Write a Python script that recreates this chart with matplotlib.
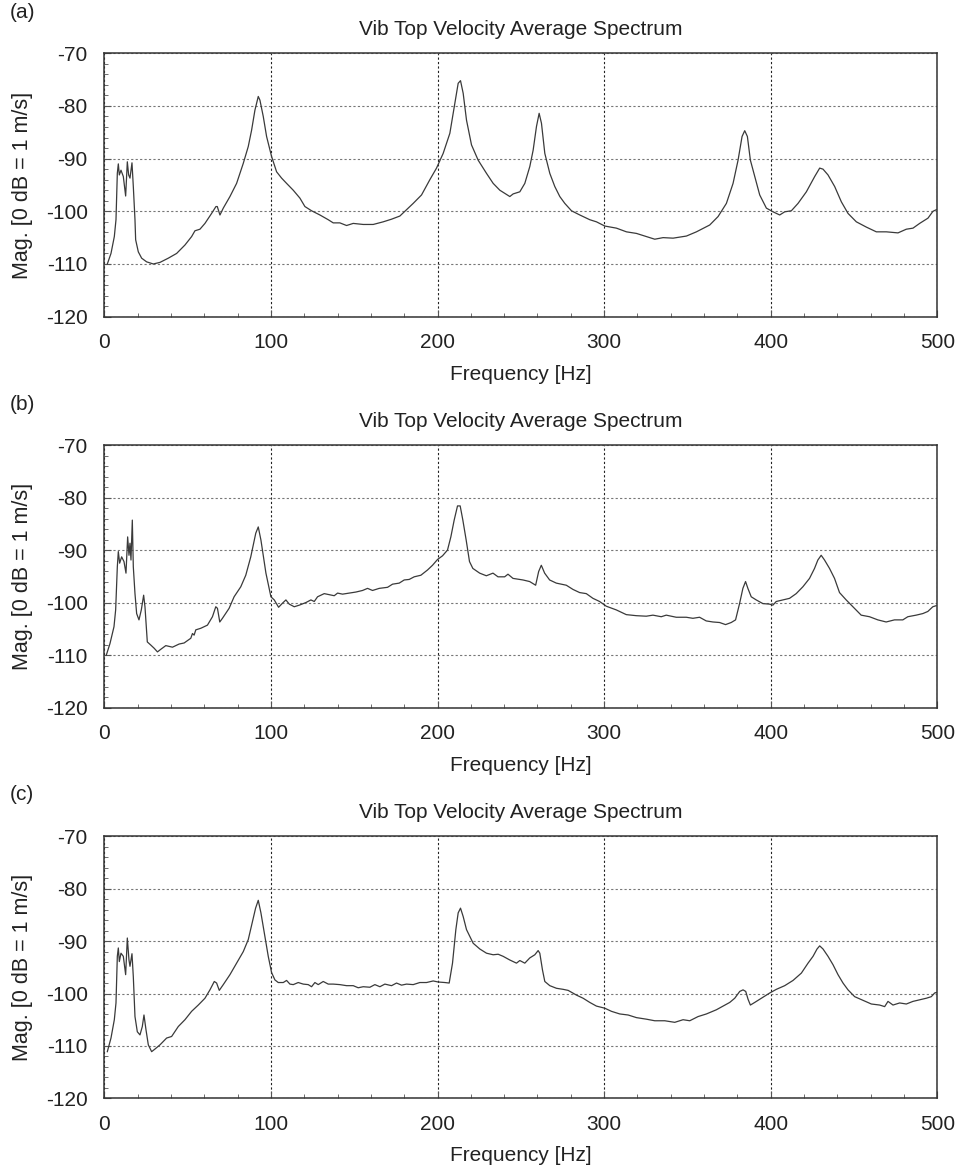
import matplotlib
matplotlib.use("Agg")
import matplotlib.pyplot as plt
from matplotlib.ticker import MultipleLocator

# (a) spectrum
freq_a = [1.8, 4, 6, 7, 7.8, 8.4, 9, 10, 11.4, 12.8, 13.8, 14.6, 15.4, 16.6, 17.4, 18.4, 18.8,
          20.4, 22.4, 25.4, 29.4, 33.4, 38.4, 43.4, 48.4, 52.4, 54.4, 57.4, 60.4, 64.4, 67, 67.8,
          69.4, 71.4, 75.4, 79.4, 83.4, 86.4, 88.4, 90.4, 92.4, 93.4, 95.4, 97.4, 100.4, 103.4,
          106.4, 109.4, 113.4, 117.4, 120.4, 124.4, 129.4, 134.4, 137.4, 141.4, 145.4, 149.4,
          155.4, 161.4, 167.4, 172.4, 177.4, 180.4, 185.4, 190.4, 195.4, 199.4, 203.4, 207.4,
          210.4, 212.4, 213.8, 215.4, 217.4, 220.4, 224.4, 229.4, 233.4, 237.4, 243.4, 245.4,
          249.4, 252.4, 255.4, 257.4, 259.4, 261, 262.4, 264.4, 267.4, 270.4, 273.4, 276.4,
          280.4, 285.4, 291.4, 295.4, 300.4, 307.4, 313.4, 319.4, 325.4, 330.4, 335.4, 341.4,
          349.4, 355.4, 363.4, 368.4, 373.4, 377.4, 380.4, 382.8, 384.4, 386, 387.8, 390.4,
          393.4, 397.4, 401.4, 405.4, 408.4, 412.4, 416.4, 421.4, 426.4, 429.4, 431.4, 434.4,
          438.4, 442.4, 446.4, 451.4, 457.4, 463.4, 469.4, 476.4, 481.4, 485.4, 489.4, 494.4,
          497.4, 499.4]
mag_a = [-110, -108, -104.8, -101.6, -92.8, -91, -93.1, -92.2, -93.4, -97.1, -90.6, -93.1, -93.7,
         -90.8, -95.3, -101.6, -105.4, -107.7, -108.9, -109.6, -110, -109.7, -108.9, -108, -106.4,
         -104.8, -103.7, -103.4, -102.3, -100.4, -99.1, -99.1, -100.7, -99.4, -97.2, -94.7, -90.9,
         -87.7, -84.6, -80.8, -78.2, -78.9, -82, -85.8, -89.6, -92.5, -93.7, -94.7, -96, -97.5,
         -99.1, -99.9, -100.7, -101.6, -102.2, -102.2, -102.7, -102.3, -102.5, -102.5, -102,
         -101.5, -100.9, -100, -98.5, -96.9, -94, -91.8, -89, -85.2, -79.5, -75.7, -75.2, -77.6,
         -82.7, -87.4, -90.3, -92.8, -94.7, -96, -97.2, -96.7, -96.3, -94.7, -91.5, -88.4, -83.9,
         -81.4, -83.3, -89, -92.8, -95.3, -97.2, -98.5, -99.9, -100.7, -101.6, -102, -102.8,
         -103.2, -103.9, -104.2, -104.8, -105.3, -105, -105.1, -104.7, -103.9, -102.6, -101,
         -98.5, -94.7, -90.3, -85.8, -84.7, -85.8, -90.3, -93.4, -96.9, -99.4, -100.1, -100.7,
         -100.1, -99.9, -98.5, -96.3, -93.4, -91.8, -92, -93.1, -95.3, -98.2, -100.4, -102, -103,
         -103.9, -103.9, -104.1, -103.4, -103.2, -102.3, -101.3, -100, -99.7]

# (b) spectrum
freq_b = [1.2, 3.4, 5.8, 6.8, 7.8, 8.4, 9.2, 10.4, 11.8, 13, 14, 14.8, 15.4, 16, 16.8, 17.4,
          18.4, 19.4, 20.8, 22.2, 23.6, 24.4, 25.8, 27.9, 29.9, 31.9, 33.9, 36.9, 40.9, 44.9,
          47.9, 51.9, 52.9, 53.9, 54.9, 57.9, 61.9, 64.9, 66.9, 67.9, 69.3, 70.9, 74.9, 77.9,
          81.9, 84.9, 87.9, 90.9, 92.4, 94, 97, 100, 102, 104.6, 107, 109, 111, 114, 117, 121,
          124, 126, 128, 130, 132, 135, 138, 140, 143, 147, 151, 155, 158, 161, 165, 170, 173,
          177, 180, 183, 186, 190, 194, 197, 200, 203, 206, 208, 210, 212, 213.6, 215.2, 217.2,
          219.2, 221.2, 225.3, 229.3, 233.3, 236.3, 240.3, 242.3, 245.3, 251.3, 255.3, 258.9,
          260.7, 262.3, 264.3, 267.3, 271.3, 277.3, 281.3, 285.3, 289.3, 293.3, 297.3, 301.3,
          307.3, 313.3, 319.3, 325.3, 329.3, 334.3, 337.3, 343.3, 349.3, 353.3, 357.3, 361.3,
          365.3, 369.3, 372.9, 376.3, 378.9, 381.3, 383.3, 384.9, 386.3, 388.3, 391.3, 395.3,
          399.3, 401.3, 403.3, 407.3, 411.3, 415.3, 419.3, 423.3, 426.3, 428.3, 430.3, 432.3,
          435.3, 438.3, 441.3, 445.3, 449.3, 454.3, 459.3, 464.3, 469.3, 474.3, 479.3, 482.3,
          487.3, 491.3, 494.3, 497.3, 499.3]
mag_b = [-110, -107.8, -104.6, -101.4, -93.2, -90.3, -92.5, -91.3, -92.2, -94.4, -87.5, -91,
         -88.7, -91.9, -84.3, -93.2, -98.3, -102.1, -103.3, -101.4, -98.6, -100.8, -107.5, -108.1,
         -108.7, -109.4, -108.9, -108.2, -108.5, -107.9, -107.7, -106.8, -105.9, -106.2, -105.2,
         -104.9, -104.3, -102.7, -100.8, -101.1, -103.7, -103, -101.1, -98.9, -97, -94.8, -91.3,
         -86.8, -85.6, -88.1, -94.4, -98.9, -99.5, -100.9, -100.1, -99.5, -100.3, -100.8, -100.5,
         -100, -99.5, -99.8, -98.9, -98.6, -98.3, -98.5, -98.7, -98.2, -98.4, -98.2, -98, -97.7,
         -97.3, -97.7, -97.3, -97.1, -96.5, -96.3, -95.7, -95.6, -95.1, -94.8, -93.8, -92.9,
         -91.8, -91.1, -90, -87.5, -84.3, -81.6, -81.6, -84.3, -88.1, -92.2, -93.5, -94.4, -94.9,
         -94.4, -95.1, -95.1, -94.6, -95.4, -95.7, -96, -96.7, -94.1, -92.9, -94.4, -95.7, -96.3,
         -96.7, -97.5, -98.1, -98.3, -99.2, -99.8, -100.7, -101.4, -102.3, -102.5, -102.6,
         -102.4, -102.7, -102.4, -102.8, -102.8, -103, -102.8, -103.5, -103.7, -103.8, -104.2,
         -103.8, -103.3, -100.2, -97.3, -96, -97.3, -98.9, -99.5, -100.2, -100.3, -100.5, -99.8,
         -99.5, -99.2, -98.3, -97, -95.4, -93.5, -91.9, -91, -91.9, -93.5, -95.4, -98.1, -99.5,
         -100.8, -102.4, -102.7, -103.3, -103.7, -103.3, -103.3, -102.7, -102.4, -102.1, -101.7,
         -100.8, -100.6]

# (c) spectrum
freq_c = [1.8, 4, 6, 7, 7.8, 8.4, 9, 10, 11.4, 12.8, 13.8, 14.8, 15.4, 16.6, 17.4, 18.4, 19.8,
          21.4, 22.8, 23.8, 25, 26.4, 28.4, 30.4, 33.4, 37.4, 40.4, 44.4, 48.4, 52.4, 56.4, 60.4,
          63.4, 66, 67.4, 69, 71.4, 75.4, 79.4, 83.4, 86.4, 89, 90.8, 92.4, 94, 96.4, 98.4, 100.4,
          102.4, 104.4, 107.4, 109.4, 111.4, 113.4, 116.4, 119.4, 122.4, 124.4, 126.4, 128.4,
          131.4, 134.4, 137.4, 141.4, 145.4, 149.4, 152.4, 155.4, 159.4, 162.4, 165.4, 168.4,
          172.4, 175.4, 178.4, 181.4, 185.4, 189.4, 193.4, 197.4, 200.4, 204.4, 207, 209, 211,
          212.4, 213.8, 215.4, 217.4, 219.4, 221.4, 225.4, 229.4, 233.4, 236.4, 239.4, 243.4,
          247.4, 249.4, 252.4, 255.4, 258.4, 260.4, 261.4, 263, 264.4, 267.4, 271.4, 275.4,
          278.4, 283.4, 287.4, 291.4, 295.4, 300.4, 304.4, 309.4, 314.4, 319.4, 325.4, 330.4,
          336.4, 342.4, 347.4, 351.4, 356.4, 361.4, 367.4, 371.4, 375.4, 378.4, 381.4, 383.4,
          385, 386.4, 387.8, 390.4, 394.4, 399.4, 403.4, 408.4, 413.4, 418.4, 422.4, 425.4,
          427.8, 429.4, 431.4, 434.4, 437.4, 440.4, 443.4, 446.4, 450.4, 455.4, 460.4, 465.4,
          468.4, 470.4, 473.4, 477.4, 481.4, 485.4, 489.4, 493.4, 496.4, 498.4, 499.4]
mag_c = [-111.1, -108.5, -105, -101.8, -92.9, -91.3, -93.9, -92.3, -92.9, -96.4, -89.4, -93.6,
         -94.8, -92.4, -96.8, -104.4, -107.3, -107.9, -106.3, -104.1, -106.9, -109.8, -111.1,
         -110.6, -109.8, -108.5, -108.2, -106.3, -105, -103.4, -102.2, -100.9, -99.3, -97.7, -98,
         -99.4, -98.3, -96.4, -94.2, -92, -89.7, -86.2, -83.7, -82.2, -84.6, -89.1, -92.9, -96,
         -97.4, -97.9, -97.9, -97.5, -98.2, -98.3, -97.9, -98.2, -98.3, -98.7, -97.9, -98.3,
         -97.7, -98.2, -98.2, -98.3, -98.5, -98.5, -98.9, -98.7, -98.8, -98.3, -98.7, -98.2,
         -98.5, -98, -98.4, -98.2, -98.3, -97.9, -97.9, -97.6, -97.8, -97.9, -98, -94.2, -87.8,
         -84.6, -83.7, -85.3, -87.8, -89.1, -90.4, -91.5, -92.3, -92.6, -92.5, -92.9, -93.6,
         -94.2, -93.7, -94.2, -93.2, -92.6, -91.8, -92.3, -95.5, -97.7, -98.5, -99, -99.2, -99.4,
         -100.3, -100.9, -101.7, -102.4, -102.8, -103.4, -103.9, -104.1, -104.6, -104.9, -105.2,
         -105.2, -105.5, -105, -105.2, -104.4, -103.9, -103.1, -102.4, -101.7, -100.9, -99.6,
         -99.3, -99.6, -101.1, -102.2, -101.7, -100.9, -99.9, -99.2, -98.5, -97.5, -96.1, -94.2,
         -92.9, -91.5, -90.9, -91.5, -92.9, -94.5, -96.4, -98, -99.3, -100.6, -101.3, -102,
         -102.2, -102.5, -101.5, -102.2, -101.8, -102, -101.5, -101.2, -100.9, -100.6, -99.9,
         -99.8]

panel_labels = ["(a)", "(b)", "(c)"]
title = "Vib Top Velocity Average Spectrum"
x_ticks = [0, 100, 200, 300, 400, 500]
y_ticks = [-120, -110, -100, -90, -80, -70]

plt.rcParams['font.family'] = ['Liberation Sans', 'DejaVu Sans']
plt.rcParams['font.size'] = 15
plt.rcParams['axes.unicode_minus'] = False

fig = plt.figure(figsize=(9.58, 11.68), dpi=100)

# axes boxes in figure fractions: left, bottom, width, height
boxes = [[0.1089, 0.7289, 0.8695, 0.2255],
         [0.1089, 0.3942, 0.8695, 0.2248],
         [0.1089, 0.0597, 0.8695, 0.2242]]
label_y = [0.989, 0.654, 0.320]

series = [(freq_a, mag_a), (freq_b, mag_b), (freq_c, mag_c)]

for box, (f, m), lab, ly in zip(boxes, series, panel_labels, label_y):
    ax = fig.add_axes(box)
    ax.plot(f, m, color='#3a3a3a', lw=0.9)
    ax.set_xlim(0, 500)
    ax.set_ylim(-120, -70)
    ax.set_xticks(x_ticks)
    ax.set_yticks(y_ticks)
    ax.xaxis.set_minor_locator(MultipleLocator(20))
    ax.yaxis.set_minor_locator(MultipleLocator(2))
    ax.tick_params(which='both', direction='in', top=False, right=False, colors='#555555',
                   labelcolor='#222222', labelsize=15)
    ax.tick_params(which='major', length=5, width=0.8)
    ax.tick_params(which='minor', length=3, width=0.6)
    ax.tick_params(axis='y', which='major', pad=12)
    ax.tick_params(axis='x', which='major', pad=12)
    ax.grid(axis='x', which='major', color='#222222', linestyle=(0, (2, 2)), lw=0.8)
    ax.grid(axis='y', which='major', color='#777777', linestyle=(0, (2, 2)), lw=0.8)
    for side in ['top', 'right', 'bottom', 'left']:
        ax.spines[side].set_color('#333333')
        ax.spines[side].set_linewidth(1.1)
    ax.set_title(title, fontsize=15, pad=13, color='#222222')
    ax.set_xlabel('Frequency [Hz]', fontsize=15, labelpad=9, color='#222222')
    ax.set_ylabel('Mag. [0 dB = 1 m/s]', fontsize=15.5, labelpad=9, color='#222222')
    fig.text(0.010, ly, lab, fontsize=15, va='center', ha='left', color='#222222')

fig.savefig('out.png', dpi=100)
